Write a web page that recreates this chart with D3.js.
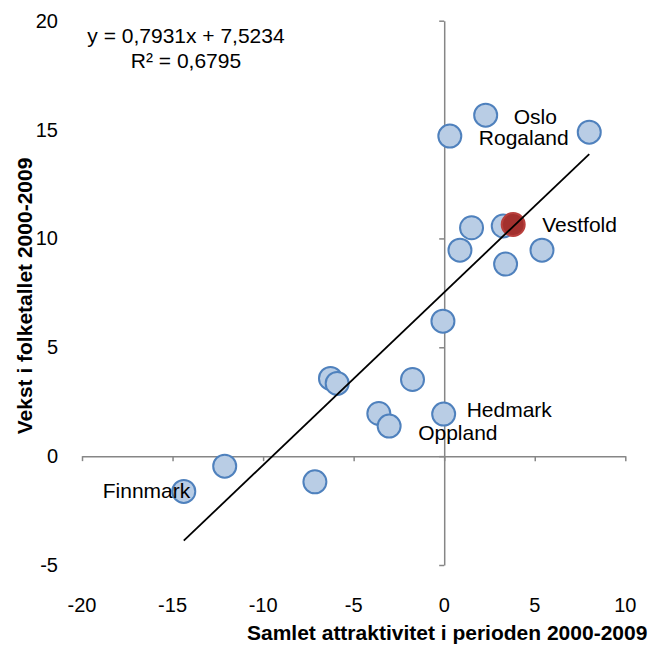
<!DOCTYPE html>
<html>
<head>
<meta charset="utf-8">
<script src="https://cdn.jsdelivr.net/npm/d3@7"></script>
<style>
  body { margin: 0; background: #fff; }
  text { font-family: "Liberation Sans", Arial, sans-serif; fill: #000; }
</style>
</head>
<body>
<svg></svg>
<script>
var width = 654;
var height = 646;

// data
var names = ["Finnmark", "", "", "", "", "", "Oppland", "", "Hedmark", "",
             "Rogaland", "Oslo", "", "", "", "", "Vestfold", "", ""];
var attraktivitet = [-14.38, -12.12, -7.14, -6.28, -5.91, -3.61, -3.04, -1.75, -0.03, -0.07,
                     0.31, 2.29, 8.01, 1.51, 0.87, 3.26, 3.81, 3.39, 5.40];
var vekst = [-1.62, -0.46, -1.18, 3.57, 3.34, 1.96, 1.38, 3.52, 1.93, 6.20,
             14.70, 15.66, 14.88, 10.49, 9.46, 10.57, 10.64, 8.82, 9.46];
var highlight = "Vestfold";
var trend = { slope: 0.7931, intercept: 7.5234 };
var xTicks = [-20, -15, -10, -5, 0, 5, 10];
var yTicks = [-5, 0, 5, 10, 15, 20];

var points = names.map((n, i) => ({ name: n, x: attraktivitet[i], y: vekst[i] }));

// label placement relative to its point (pixels)
var labelOffset = {
  "Oslo": [28, 9],
  "Rogaland": [29, 9],
  "Vestfold": [29, 8],
  "Hedmark": [23, 3],
  "Oppland": [29, 14],
  "Finnmark": [-81, 7]
};

var svg = d3.select("svg")
    .attr("width", width)
    .attr("height", height);

var xScale = d3.scaleLinear()
    .domain([-20, 10])
    .range([82, 625.3]);

var yScale = d3.scaleLinear()
    .domain([-5, 20])
    .range([565, 20.7]);

var axisColor = "#868686";

// x axis crossing at y = 0
var xAxis = svg.append("g")
    .attr("transform", "translate(0," + yScale(0) + ")")
    .call(d3.axisBottom(xScale).tickValues(xTicks).tickSize(5).tickSizeOuter(0).tickFormat(""));

// y axis crossing at x = 0
var yAxis = svg.append("g")
    .attr("transform", "translate(" + xScale(0) + ",0)")
    .call(d3.axisLeft(yScale).tickValues(yTicks).tickSize(5).tickSizeOuter(0).tickFormat(""));

[xAxis, yAxis].forEach(function(g) {
  g.select(".domain").attr("stroke", axisColor).attr("stroke-width", 1.5);
  g.selectAll(".tick line").attr("stroke", axisColor).attr("stroke-width", 1.5);
});

// tick labels sit at the low side of the plot
svg.selectAll(".xlab")
    .data(xTicks)
  .enter().append("text")
    .attr("x", d => xScale(d))
    .attr("y", 612)
    .style("text-anchor", "middle")
    .style("font-size", "20px")
    .text(d => d);

svg.selectAll(".ylab")
    .data(yTicks)
  .enter().append("text")
    .attr("x", 58)
    .attr("y", d => yScale(d) + 7)
    .style("text-anchor", "end")
    .style("font-size", "20px")
    .text(d => d);

// markers
svg.selectAll("circle")
    .data(points)
  .enter().append("circle")
    .attr("cx", d => xScale(d.x))
    .attr("cy", d => yScale(d.y))
    .attr("r", 11.5)
    .attr("fill", d => d.name === highlight ? "#a3302e" : "#b9cde5")
    .attr("stroke", d => d.name === highlight ? "#b9403d" : "#4f81bd")
    .attr("stroke-width", 2);

// trend line over the data range
var xExt = d3.extent(attraktivitet);
svg.append("line")
    .attr("x1", xScale(xExt[0]))
    .attr("y1", yScale(trend.slope * xExt[0] + trend.intercept))
    .attr("x2", xScale(xExt[1]))
    .attr("y2", yScale(trend.slope * xExt[1] + trend.intercept))
    .attr("stroke", "#000")
    .attr("stroke-width", 1.8);

// point labels
svg.selectAll(".plabel")
    .data(points.filter(d => labelOffset[d.name]))
  .enter().append("text")
    .attr("x", d => xScale(d.x) + labelOffset[d.name][0])
    .attr("y", d => yScale(d.y) + labelOffset[d.name][1])
    .style("font-size", "21px")
    .text(d => d.name);

// equation
svg.append("text")
    .attr("x", 186)
    .attr("y", 43)
    .style("text-anchor", "middle")
    .style("font-size", "21px")
    .text("y = 0,7931x + 7,5234");

svg.append("text")
    .attr("x", 186)
    .attr("y", 68)
    .style("text-anchor", "middle")
    .style("font-size", "21px")
    .text("R² = 0,6795");

// axis titles
svg.append("text")
    .attr("x", 247)
    .attr("y", 640)
    .style("font-size", "21px")
    .style("font-weight", "bold")
    .text("Samlet attraktivitet i perioden 2000-2009");

svg.append("text")
    .attr("transform", "translate(32,296) rotate(-90)")
    .style("text-anchor", "middle")
    .style("font-size", "21px")
    .style("font-weight", "bold")
    .text("Vekst i folketallet 2000-2009");
</script>
</body>
</html>
